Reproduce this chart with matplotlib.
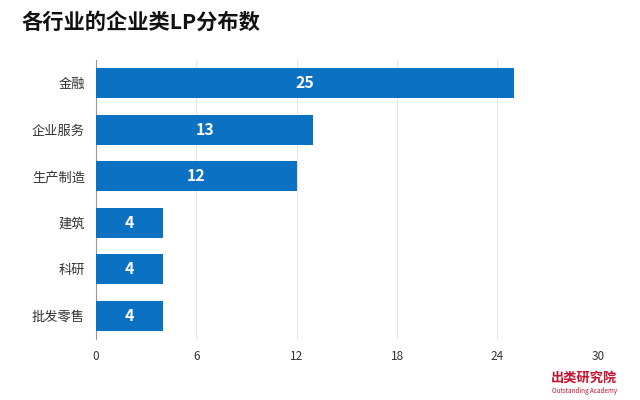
import matplotlib
matplotlib.use("Agg")
import matplotlib.pyplot as plt

plt.rcParams['font.family'] = ['Noto Sans CJK SC', 'DejaVu Sans']

categories = ["金融", "企业服务", "生产制造", "建筑", "科研", "批发零售"]
values = [25, 13, 12, 4, 4, 4]
xticks = [0, 6, 12, 18, 24, 30]
title = "各行业的企业类LP分布数"

fig = plt.figure(figsize=(6.4, 4.0), dpi=100)
ax = fig.add_axes([0.15, 0.1525, 0.784, 0.6975])

bar_color = "#0B72C3"
ypos = list(range(len(categories)))
bars = ax.barh(ypos, values, height=0.65, color=bar_color, zorder=3)
for y, v in zip(ypos, values):
    ax.text(v / 2, y, str(v), ha="center", va="center", color="white",
            fontsize=11.5, fontweight="bold", zorder=4)

ax.set_yticks(ypos)
ax.set_yticklabels(categories, fontsize=9.5, color="#333333")
ax.set_ylim(len(categories) - 0.5, -0.5)
ax.set_xlim(0, 30)
ax.set_xticks(xticks)
ax.set_xticklabels([str(t) for t in xticks], fontsize=8.5, color="#333333")
ax.xaxis.grid(True, color="#e6e6e6", linewidth=0.8, zorder=0)
for s in ["top", "right", "bottom"]:
    ax.spines[s].set_visible(False)
ax.spines["left"].set_color("#999999")
ax.spines["left"].set_linewidth(0.8)
ax.tick_params(axis="both", length=0, pad=8)

fig.text(0.034, 0.945, title, fontsize=15.3, fontweight="bold", color="#111111",
         ha="left", va="center")
fig.text(0.964, 0.055, "出类研究院", fontsize=9.5, fontweight="bold", color="#c8102e",
         ha="right", va="center")
fig.text(0.964, 0.022, "Outstanding Academy", fontsize=4.5, color="#c8102e",
         ha="right", va="center")

fig.savefig("out.png", dpi=100, facecolor="white")
